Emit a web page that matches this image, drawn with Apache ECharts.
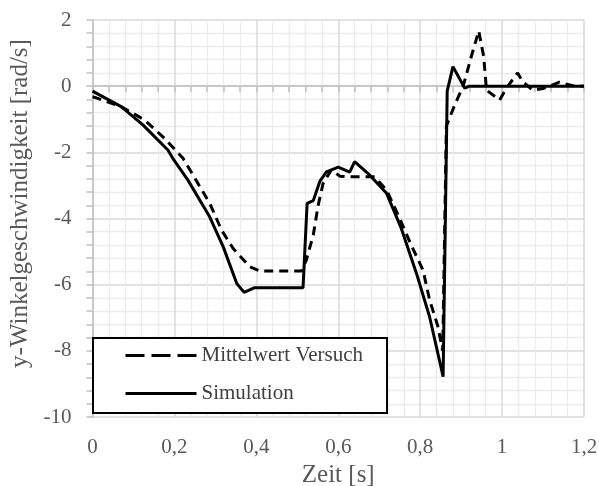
<!DOCTYPE html>
<html>
<head>
<meta charset="utf-8">
<script src="https://cdn.jsdelivr.net/npm/echarts@6/dist/echarts.min.js"></script>
<style>html,body{margin:0;padding:0;background:#fff}#c{width:599px;height:486px}</style>
</head>
<body>
<div id="c"></div>
<script>
var seriesNames = ['Mittelwert Versuch', 'Simulation'];
var xTitle = 'Zeit [s]';
var yTitle = 'y-Winkelgeschwindigkeit [rad/s]';
var xTicks = [0, 0.2, 0.4, 0.6, 0.8, 1, 1.2];
var yTicks = [-10, -8, -6, -4, -2, 0, 2];

var versuch = [
  [0,-0.32],[0.013,-0.37],[0.07,-0.62],[0.127,-1.02],[0.176,-1.58],[0.221,-2.18],[0.25,-2.78],
  [0.287,-3.56],[0.315,-4.35],[0.343,-4.9],[0.384,-5.46],[0.409,-5.59],[0.51,-5.59],[0.522,-5.26],
  [0.539,-4.5],[0.551,-3.6],[0.563,-2.94],[0.583,-2.53],[0.604,-2.72],[0.624,-2.74],[0.689,-2.74],
  [0.718,-3.14],[0.75,-4.0],[0.778,-4.8],[0.807,-5.56],[0.823,-6.46],[0.843,-7.25],[0.855,-8.0],
  [0.864,-1.2],[0.885,-0.55],[0.905,0],[0.925,0.9],[0.943,1.67],[0.955,0.9],[0.962,-0.12],
  [0.994,-0.42],[1.01,-0.07],[1.038,0.4],[1.05,0.14],[1.075,-0.12],[1.1,-0.07],[1.14,0.12],
  [1.17,0.02],[1.2,0]
];
var simulation = [
  [0,-0.15],[0.07,-0.62],[0.123,-1.17],[0.184,-1.93],[0.196,-2.18],[0.233,-2.84],[0.286,-3.95],
  [0.319,-4.85],[0.352,-5.96],[0.37,-6.23],[0.396,-6.09],[0.514,-6.09],[0.524,-3.54],[0.539,-3.46],
  [0.555,-2.88],[0.571,-2.59],[0.6,-2.45],[0.628,-2.6],[0.64,-2.28],[0.677,-2.69],[0.718,-3.24],
  [0.754,-4.3],[0.791,-5.66],[0.823,-6.97],[0.856,-8.78],[0.866,-0.15],[0.88,0.59],[0.909,-0.06],
  [0.92,0],[1.2,0]
];

var font = '"Liberation Serif","Times New Roman",serif';
var chart = echarts.init(document.getElementById('c'), null, {renderer: 'canvas'});
chart.setOption({
  animation: false,
  backgroundColor: '#ffffff',
  grid: {left: 92.5, right: 15, top: 20, bottom: 69, containLabel: false, outerBoundsMode: 'none'},
  xAxis: {
    type: 'value', min: xTicks[0], max: xTicks[xTicks.length - 1], interval: 0.2,
    name: xTitle, nameLocation: 'middle', nameGap: 44,
    nameTextStyle: {fontFamily: font, fontSize: 25, color: '#595959'},
    axisLine: {show: true, lineStyle: {color: '#bfbfbf', width: 1.5}},
    axisTick: {show: true, inside: false, length: 6, lineStyle: {color: '#bfbfbf', width: 1.5}},
    minorTick: {show: true, splitNumber: 5, length: 6, lineStyle: {color: '#bfbfbf', width: 1.5}},
    splitLine: {show: true, lineStyle: {color: '#d9d9d9', width: 1.5}},
    minorSplitLine: {show: true, lineStyle: {color: '#ececec', width: 1.3}},
    axisLabel: {fontFamily: font, fontSize: 21, color: '#595959', margin: 20,
      formatter: function (v) { return String(Math.round(v * 10) / 10).replace('.', ','); }}
  },
  yAxis: {
    type: 'value', min: yTicks[0], max: yTicks[yTicks.length - 1], interval: 2,
    name: yTitle, nameLocation: 'middle', nameGap: 48,
    nameTextStyle: {fontFamily: font, fontSize: 25, color: '#595959', padding: [0, 0, 0, 30]},
    axisLine: {show: true, lineStyle: {color: '#bfbfbf', width: 1.5}},
    axisTick: {show: true, inside: false, length: 6, lineStyle: {color: '#bfbfbf', width: 1.5}},
    minorTick: {show: true, splitNumber: 5, length: 6, lineStyle: {color: '#bfbfbf', width: 1.5}},
    splitLine: {show: true, lineStyle: {color: '#d9d9d9', width: 1.5}},
    minorSplitLine: {show: true, lineStyle: {color: '#ececec', width: 1.3}},
    axisLabel: {fontFamily: font, fontSize: 21, color: '#595959', margin: 21,
      formatter: function (v) { return String(v); }}
  },
  legend: {
    orient: 'vertical', left: 93, top: 338,
    padding: [7, 24, 9, 31], itemGap: 17, itemWidth: 71, itemHeight: 14,
    borderColor: '#000', borderWidth: 2, backgroundColor: '#fff',
    textStyle: {fontFamily: font, fontSize: 21, color: '#404040'},
    itemStyle: {color: 'rgba(0,0,0,0)', borderWidth: 0, opacity: 0},
    data: [
      {name: seriesNames[0], lineStyle: {type: [19, 7], width: 3}},
      {name: seriesNames[1], lineStyle: {width: 3}}
    ]
  },
  series: [
    {name: seriesNames[0], type: 'line', data: versuch, symbol: 'none', smooth: false,
      lineStyle: {color: '#000', width: 3, type: [9, 6]}, itemStyle: {color: '#000'}, z: 3},
    {name: seriesNames[1], type: 'line', data: simulation, symbol: 'none', smooth: false,
      lineStyle: {color: '#000', width: 3, type: 'solid'}, itemStyle: {color: '#000'}, z: 4}
  ]
});
</script>
</body>
</html>
